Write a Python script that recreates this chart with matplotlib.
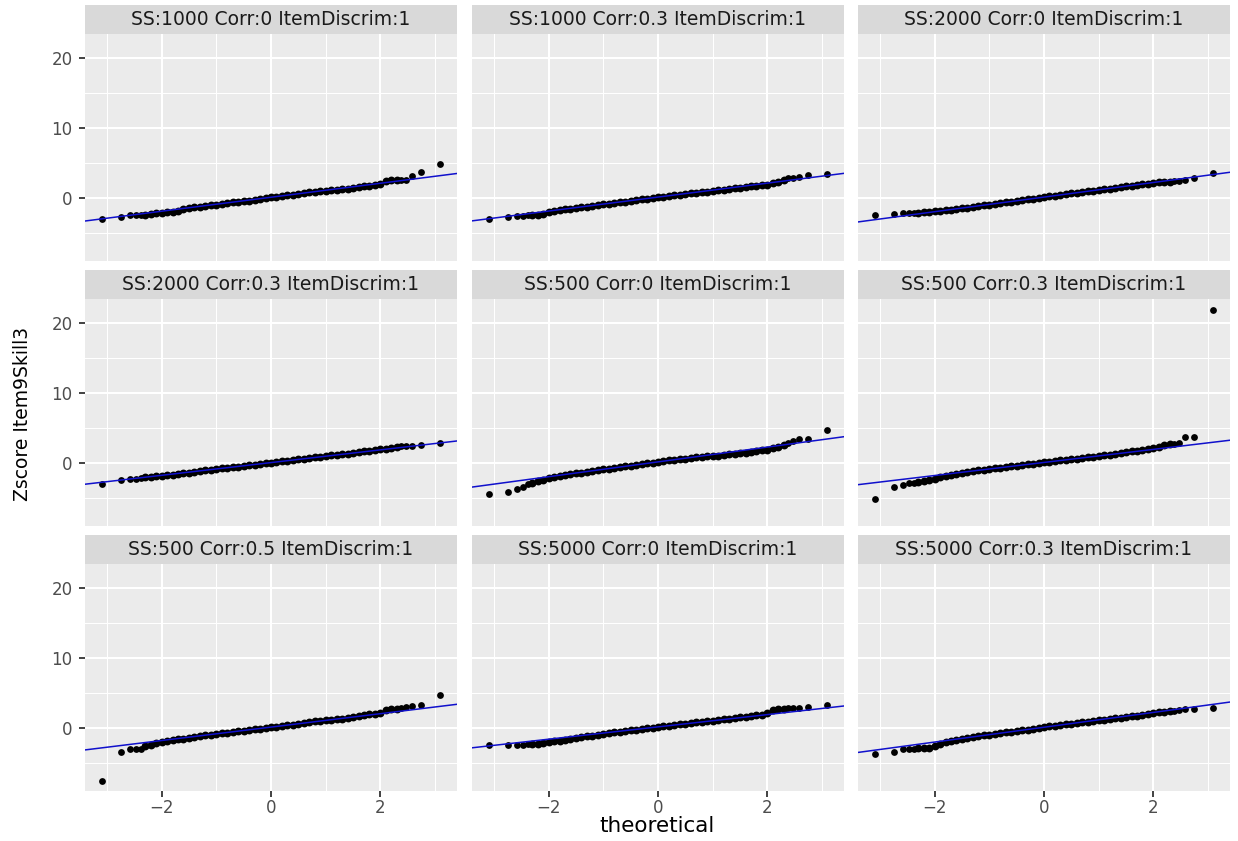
import matplotlib
matplotlib.use("Agg")
import matplotlib.pyplot as plt
from matplotlib.patches import Rectangle

# ---------------- data ----------------
PANEL_TITLES = [
    "SS:1000 Corr:0 ItemDiscrim:1", "SS:1000 Corr:0.3 ItemDiscrim:1", "SS:2000 Corr:0 ItemDiscrim:1",
    "SS:2000 Corr:0.3 ItemDiscrim:1", "SS:500 Corr:0 ItemDiscrim:1", "SS:500 Corr:0.3 ItemDiscrim:1",
    "SS:500 Corr:0.5 ItemDiscrim:1", "SS:5000 Corr:0 ItemDiscrim:1", "SS:5000 Corr:0.3 ItemDiscrim:1",
]

# theoretical quantiles of the tail points (left and right)
TAIL_X_LEFT = [-3.09, -2.75, -2.58, -2.46, -2.37]
TAIL_X_RIGHT = [2.37, 2.46, 2.58, 2.75, 3.09]
# theoretical quantiles sampled through the dense middle band
MID_X = [-2.3, -2.2, -2.1, -2.0, -1.9, -1.8, -1.7, -1.6, -1.5, -1.4, -1.3, -1.2, -1.1, -1.0,
         -0.9, -0.8, -0.7, -0.6, -0.5, -0.4, -0.3, -0.2, -0.1, 0.0, 0.1, 0.2, 0.3, 0.4, 0.5,
         0.6, 0.7, 0.8, 0.9, 1.0, 1.1, 1.2, 1.3, 1.4, 1.5, 1.6, 1.7, 1.8, 1.9, 2.0, 2.1, 2.2, 2.3]

TAIL_Y_LEFT = [
    [-3.1, -2.8, -2.55, -2.5, -2.45],
    [-3.08, -2.8, -2.6, -2.58, -2.55],
    [-2.55, -2.3, -2.2, -2.2, -2.18],
    [-3.0, -2.54, -2.4, -2.3, -2.2],
    [-4.55, -4.2, -3.83, -3.5, -3.0],
    [-5.26, -3.49, -3.16, -2.95, -2.85],
    [-7.62, -3.48, -3.1, -3.05, -3.0],
    [-2.48, -2.48, -2.48, -2.45, -2.4],
    [-3.71, -3.43, -3.1, -3.05, -3.0],
]
TAIL_Y_RIGHT = [
    [2.5, 2.55, 3.1, 3.7, 4.75],
    [2.74, 2.84, 2.98, 3.22, 3.32],
    [2.34, 2.4, 2.5, 2.74, 3.46],
    [2.35, 2.4, 2.44, 2.49, 2.82],
    [2.82, 3.1, 3.44, 3.44, 4.64],
    [2.7, 2.8, 3.6, 3.68, 21.8],
    [2.86, 3.0, 3.1, 3.24, 4.67],
    [2.76, 2.76, 2.78, 2.95, 3.19],
    [2.42, 2.5, 2.62, 2.71, 2.81],
]
MID_Y = [
    [-2.45, -2.35, -2.25, -2.15, -2.08, -2.0, -1.85, -1.62, -1.5, -1.4, -1.3, -1.2, -1.1, -1.0,
     -0.9, -0.8, -0.7, -0.6, -0.5, -0.42, -0.32, -0.22, -0.1, 0.02, 0.12, 0.22, 0.32, 0.42, 0.55,
     0.65, 0.75, 0.85, 0.92, 0.98, 1.02, 1.1, 1.2, 1.3, 1.42, 1.52, 1.62, 1.72, 1.82, 1.95, 2.35, 2.45, 2.5],
    [-2.52, -2.5, -2.4, -2.1, -1.95, -1.8, -1.7, -1.6, -1.48, -1.38, -1.28, -1.17, -1.07, -0.97,
     -0.87, -0.77, -0.67, -0.57, -0.47, -0.37, -0.27, -0.17, -0.07, 0.03, 0.12, 0.22, 0.31, 0.4, 0.5,
     0.59, 0.68, 0.77, 0.86, 0.95, 1.04, 1.13, 1.22, 1.32, 1.41, 1.5, 1.6, 1.68, 1.76, 1.85, 2.05, 2.25, 2.55],
    [-2.15, -2.1, -2.03, -1.96, -1.88, -1.8, -1.72, -1.62, -1.52, -1.42, -1.32, -1.2, -1.1, -1.0,
     -0.88, -0.78, -0.67, -0.56, -0.46, -0.35, -0.24, -0.14, -0.03, 0.07, 0.17, 0.28, 0.38, 0.49, 0.59,
     0.7, 0.8, 0.9, 1.0, 1.1, 1.2, 1.3, 1.4, 1.5, 1.6, 1.7, 1.8, 1.9, 1.98, 2.08, 2.2, 2.26, 2.3],
    [-2.12, -2.05, -1.98, -1.9, -1.82, -1.74, -1.66, -1.55, -1.45, -1.35, -1.22, -1.12, -1.02, -0.92,
     -0.83, -0.74, -0.65, -0.56, -0.47, -0.37, -0.28, -0.19, -0.09, 0.0, 0.09, 0.18, 0.27, 0.36, 0.46,
     0.55, 0.64, 0.74, 0.83, 0.92, 1.02, 1.11, 1.2, 1.3, 1.4, 1.5, 1.6, 1.7, 1.8, 1.9, 2.0, 2.12, 2.25],
    [-2.85, -2.65, -2.45, -2.25, -2.1, -1.95, -1.8, -1.68, -1.55, -1.42, -1.3, -1.18, -1.07, -0.96,
     -0.85, -0.74, -0.63, -0.52, -0.42, -0.31, -0.21, -0.1, 0.0, 0.1, 0.2, 0.3, 0.4, 0.5, 0.58,
     0.66, 0.74, 0.82, 0.88, 0.94, 1.0, 1.08, 1.16, 1.24, 1.34, 1.44, 1.55, 1.65, 1.75, 1.85, 2.1, 2.3, 2.5],
    [-2.75, -2.6, -2.45, -2.3, -2.12, -1.95, -1.78, -1.62, -1.48, -1.35, -1.22, -1.1, -1.0, -0.9,
     -0.8, -0.72, -0.63, -0.54, -0.45, -0.36, -0.27, -0.17, -0.08, 0.02, 0.11, 0.2, 0.3, 0.39, 0.48,
     0.58, 0.67, 0.77, 0.86, 0.95, 1.05, 1.15, 1.25, 1.36, 1.48, 1.6, 1.72, 1.84, 1.95, 2.05, 2.2, 2.45, 2.62],
    [-2.7, -2.45, -2.2, -2.0, -1.88, -1.78, -1.68, -1.58, -1.45, -1.32, -1.2, -1.1, -1.0, -0.9,
     -0.8, -0.72, -0.62, -0.53, -0.43, -0.34, -0.25, -0.16, -0.06, 0.04, 0.14, 0.24, 0.34, 0.44, 0.55,
     0.66, 0.77, 0.88, 0.98, 1.05, 1.1, 1.18, 1.28, 1.4, 1.52, 1.64, 1.76, 1.88, 2.0, 2.12, 2.45, 2.62, 2.72],
    [-2.35, -2.28, -2.2, -2.1, -1.98, -1.86, -1.74, -1.62, -1.5, -1.38, -1.26, -1.14, -1.02, -0.9,
     -0.8, -0.7, -0.6, -0.5, -0.4, -0.3, -0.2, -0.1, 0.0, 0.1, 0.19, 0.28, 0.37, 0.46, 0.55,
     0.64, 0.73, 0.82, 0.91, 1.0, 1.09, 1.18, 1.27, 1.36, 1.45, 1.55, 1.65, 1.75, 1.85, 2.1, 2.5, 2.65, 2.72],
    [-2.98, -2.93, -2.88, -2.7, -2.3, -2.05, -1.85, -1.72, -1.6, -1.48, -1.36, -1.24, -1.12, -1.0,
     -0.9, -0.8, -0.7, -0.6, -0.5, -0.39, -0.28, -0.17, -0.06, 0.05, 0.16, 0.27, 0.38, 0.48, 0.58,
     0.67, 0.76, 0.85, 0.95, 1.04, 1.13, 1.22, 1.32, 1.42, 1.52, 1.62, 1.72, 1.82, 1.93, 2.05, 2.2, 2.3, 2.38],
]
LINE_SLOPE = [1.0, 1.0, 1.045, 0.91, 1.06, 0.935, 0.96, 0.88, 1.06]
LINE_INTERCEPT = [0.05, 0.07, 0.07, 0.0, 0.1, 0.02, 0.07, 0.1, 0.05]

X_TICKS = [-2, 0, 2]
Y_TICKS = [0, 10, 20]
X_LABEL = "theoretical"
Y_LABEL = "Zscore Item9Skill3"

# ---------------- figure ----------------
W, H = 1238, 841
fig = plt.figure(figsize=(W / 100, H / 100), dpi=100)
plt.rcParams['font.family'] = ['DejaVu Sans']

col_left = [85, 472, 858]
panel_w = 372
row_top = [34, 299, 564]
panel_h = 227
strip_h = 29

def fx(px):
    return px / W

def fy(py):
    return 1 - py / H

for i in range(9):
    r, c = divmod(i, 3)
    x0 = col_left[c]
    y0 = row_top[r]
    ax = fig.add_axes([fx(x0), fy(y0 + panel_h), panel_w / W, panel_h / H])
    ax.set_facecolor('#EBEBEB')
    for s in ax.spines.values():
        s.set_visible(False)
    ax.set_xlim(-3.4, 3.4)
    ax.set_ylim(-9.07, 23.4)
    ax.set_xticks(X_TICKS)
    ax.set_yticks(Y_TICKS)
    ax.set_xticks([-3, -1, 1, 3], minor=True)
    ax.set_yticks([-5, 5, 15], minor=True)
    ax.grid(which='major', color='white', lw=1.5)
    ax.grid(which='minor', color='white', lw=0.75)
    ax.set_axisbelow(True)
    ax.tick_params(which='minor', length=0)
    ax.tick_params(which='major', color='#333333', length=4, width=1.3,
                   labelcolor='#4D4D4D', labelsize=12)
    ax.tick_params(axis='y', pad=5)
    ax.tick_params(axis='x', pad=2)
    if c != 0:
        ax.tick_params(axis='y', length=0, labelleft=False)
    if r != 2:
        ax.tick_params(axis='x', length=0, labelbottom=False)
    ax.set_xticklabels(['\u22122', '0', '2'] if r == 2 else [])

    # dense middle band of points, then the separated tail points
    ax.scatter(MID_X, MID_Y[i], s=32, color='black', linewidths=0, zorder=2)
    ax.scatter(TAIL_X_LEFT + TAIL_X_RIGHT, TAIL_Y_LEFT[i] + TAIL_Y_RIGHT[i],
               s=24, color='black', linewidths=0, zorder=2)
    ax.axline((0, LINE_INTERCEPT[i]), slope=LINE_SLOPE[i], color='#1010CC', lw=1.1, zorder=3)

    # strip
    fig.patches.append(Rectangle((fx(x0), fy(y0)), panel_w / W, strip_h / H,
                                 transform=fig.transFigure, facecolor='#D9D9D9',
                                 edgecolor='none', zorder=0))
    fig.text(fx(x0 + panel_w / 2), fy(y0 - strip_h / 2), PANEL_TITLES[i],
             ha='center', va='center', fontsize=13.5, color='#1A1A1A')

fig.text(fx(657), fy(826), X_LABEL, ha='center', va='center', fontsize=15.5, color='black')
fig.text(fx(23), fy(414), Y_LABEL, ha='center', va='center', rotation=90, fontsize=13.5, color='black')

fig.savefig('out.png', dpi=100, facecolor='white')
